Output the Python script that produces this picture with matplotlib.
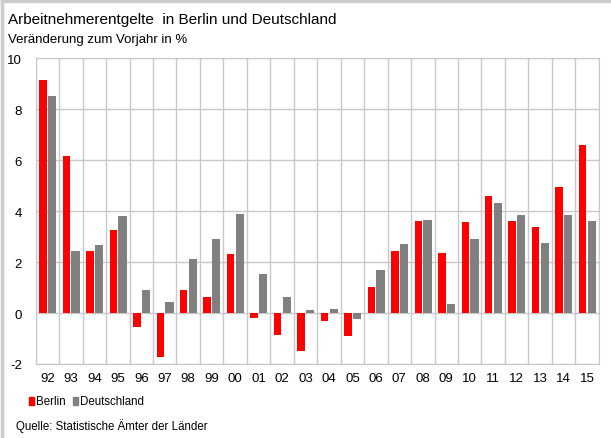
import numpy as np
import matplotlib.pyplot as plt
from matplotlib.lines import Line2D
from matplotlib.patches import Rectangle

plt.rcParams['font.family'] = ['Liberation Sans', 'DejaVu Sans']
plt.rcParams['axes.unicode_minus'] = False

years = ['92', '93', '94', '95', '96', '97', '98', '99', '00', '01', '02', '03',
         '04', '05', '06', '07', '08', '09', '10', '11', '12', '13', '14', '15']
berlin = [9.16, 6.16, 2.44, 3.25, -0.55, -1.74, 0.89, 0.63, 2.30, -0.18, -0.86, -1.50,
          -0.31, -0.90, 1.03, 2.44, 3.62, 2.35, 3.58, 4.58, 3.62, 3.36, 4.94, 6.58]
deutschland = [8.52, 2.43, 2.67, 3.80, 0.89, 0.44, 2.12, 2.89, 3.90, 1.53, 0.63, 0.12,
               0.17, -0.22, 1.67, 2.72, 3.66, 0.34, 2.89, 4.30, 3.86, 2.76, 3.86, 3.62]

red = '#ff0000'
grey = '#808080'
gridc = '#c8c8c8'

fig = plt.figure(figsize=(6.11, 4.39), dpi=100)
ax = fig.add_axes([0.0584, 0.1686, 0.9216, 0.6964])

x = np.arange(len(years))
ax.bar(x - 0.19, berlin, width=0.32, color=red, zorder=3)
ax.bar(x + 0.2, deutschland, width=0.35, color=grey, zorder=3)

ax.set_xlim(-0.5, len(years) - 0.5)
ax.set_ylim(-2, 10)
ax.set_yticks(range(-2, 11, 2))
ax.set_xticks(x)
ax.set_xticklabels(years)

# excel style grid: horizontal every 2, vertical between categories
for yv in range(-2, 11, 2):
    ax.axhline(yv, color=gridc, lw=1, zorder=1)
for xv in np.arange(-0.5, len(years), 1):
    ax.axvline(xv, color=gridc, lw=1, zorder=1)

for s in ax.spines.values():
    s.set_color(gridc)
ax.tick_params(length=0, labelsize=9.5, colors='black')
ax.tick_params(axis='x', pad=6)
ax.tick_params(axis='y', pad=10)

fig.text(0.013, 0.955, 'Arbeitnehmerentgelte  in Berlin und Deutschland', fontsize=11, va='center')
fig.text(0.013, 0.908, 'Veränderung zum Vorjahr in %', fontsize=9.5, va='center')

# legend
fig.add_artist(Rectangle((29 / 611, 1 - 406 / 439), 5 / 611, 8 / 439,
                         transform=fig.transFigure, color=red))
fig.text(36 / 611, 1 - 402 / 439, 'Berlin', fontsize=8.3, va='center')
fig.add_artist(Rectangle((73 / 611, 1 - 406 / 439), 5 / 611, 8 / 439,
                         transform=fig.transFigure, color=grey))
fig.text(80 / 611, 1 - 402 / 439, 'Deutschland', fontsize=8.3, va='center')

fig.text(16 / 611, 1 - 426 / 439, 'Quelle: Statistische Ämter der Länder', fontsize=8.3, va='center')

# frame lines at top and left
fig.add_artist(Line2D([0.004, 1], [0.996, 0.996], color='#cccccc', lw=2.5, transform=fig.transFigure))
fig.add_artist(Line2D([0.004, 0.004], [0, 0.996], color='#cccccc', lw=2.5, transform=fig.transFigure))

fig.savefig('out.png', dpi=100)
